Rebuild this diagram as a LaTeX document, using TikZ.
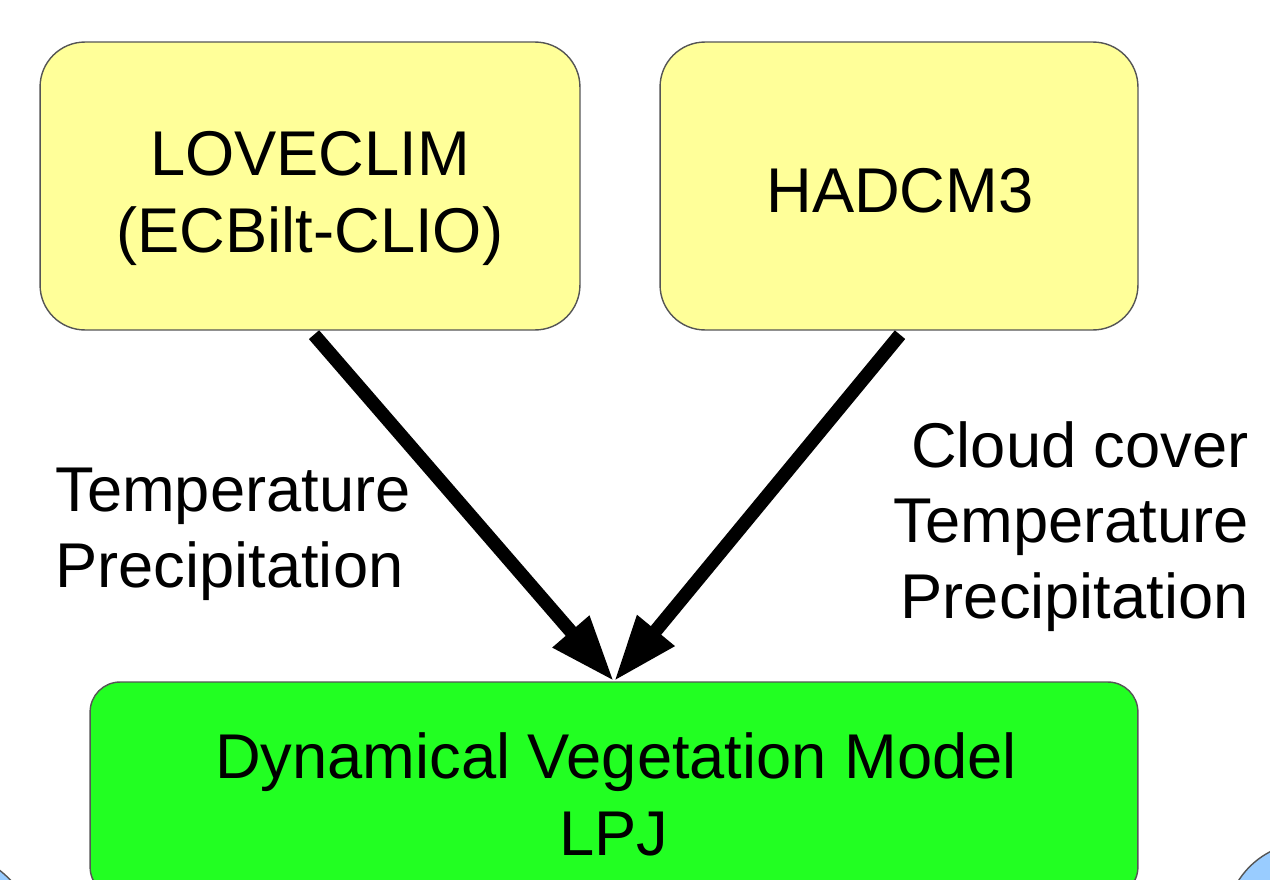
\documentclass[tikz,border=0pt]{standalone}
\usepackage{fontspec}
\setmainfont{Liberation Sans}
\usetikzlibrary{arrows.meta}
\definecolor{boxyellow}{HTML}{FFFF99}
\definecolor{boxgreen}{HTML}{22FF22}
\definecolor{discblue}{HTML}{99CCFF}
\definecolor{edgegray}{HTML}{555555}
\tikzset{
  model/.style={draw=edgegray, line width=0.8pt, rounded corners=0.9cm},
  vegbox/.style={draw=edgegray, line width=0.8pt, fill=boxgreen, rounded corners=0.6cm},
  disc/.style={draw=edgegray, line width=0.8pt, fill=discblue},
  txt/.style={font=\fontsize{36}{43}\selectfont, inner sep=0pt},
  flow/.style={line width=0.27cm, line cap=butt,
    -{Triangle[length=1.32cm, width=0.9cm]}},
}
\begin{document}
\begin{tikzpicture}[x=0.02cm, y=-0.02cm]
  \useasboundingbox (0,0) rectangle (1270,879);
  \clip (0,0) rectangle (1270,879);

  % discs peeking in at the lower corners
  \node[disc, circle, minimum size=4cm, inner sep=0pt] (discL) at (-62,949) {};
  \node[disc, circle, minimum size=3.3cm, inner sep=0pt] (discR) at (1308,925) {};

  % climate models
  \node[model, fill=boxyellow, minimum width=10.8cm, minimum height=5.76cm,
        inner sep=0pt] (love) at (310,186) {};
  \node[model, fill=boxyellow, minimum width=9.56cm, minimum height=5.76cm,
        inner sep=0pt] (hadcm) at (899,186) {};

  % vegetation model
  \node[vegbox, minimum width=20.96cm, minimum height=4.3cm,
        inner sep=0pt] (dvm) at (614,789.5) {};

  % box texts
  \node[txt, anchor=base] (loveA) at (310,175) {LOVECLIM};
  \node[txt, anchor=base] (loveB) at (310,252) {(ECBilt-CLIO)};
  \node[txt, anchor=base] (hadT) at (900,212) {HADCM3};
  \node[txt, anchor=base] (dvmA) at (616,778) {Dynamical Vegetation Model};
  \node[txt, anchor=base] (dvmB) at (614,855) {LPJ};

  % forcing arrows
  \draw[flow] ([shift={(4,4)}]love.south) -- (dvm.north);
  \draw[flow] ([shift={(1,4)}]hadcm.south) -- (dvm.north);

  % forcing variables
  \node[txt, anchor=base west] (lA) at (55,511) {Temperature};
  \node[txt, anchor=base west] (lB) at (55,587) {Precipitation};
  \node[txt, anchor=base east] (rA) at (1249,467) {Cloud cover};
  \node[txt, anchor=base east] (rB) at (1249,542) {Temperature};
  \node[txt, anchor=base east] (rC) at (1249,618) {Precipitation};
\end{tikzpicture}
\end{document}
